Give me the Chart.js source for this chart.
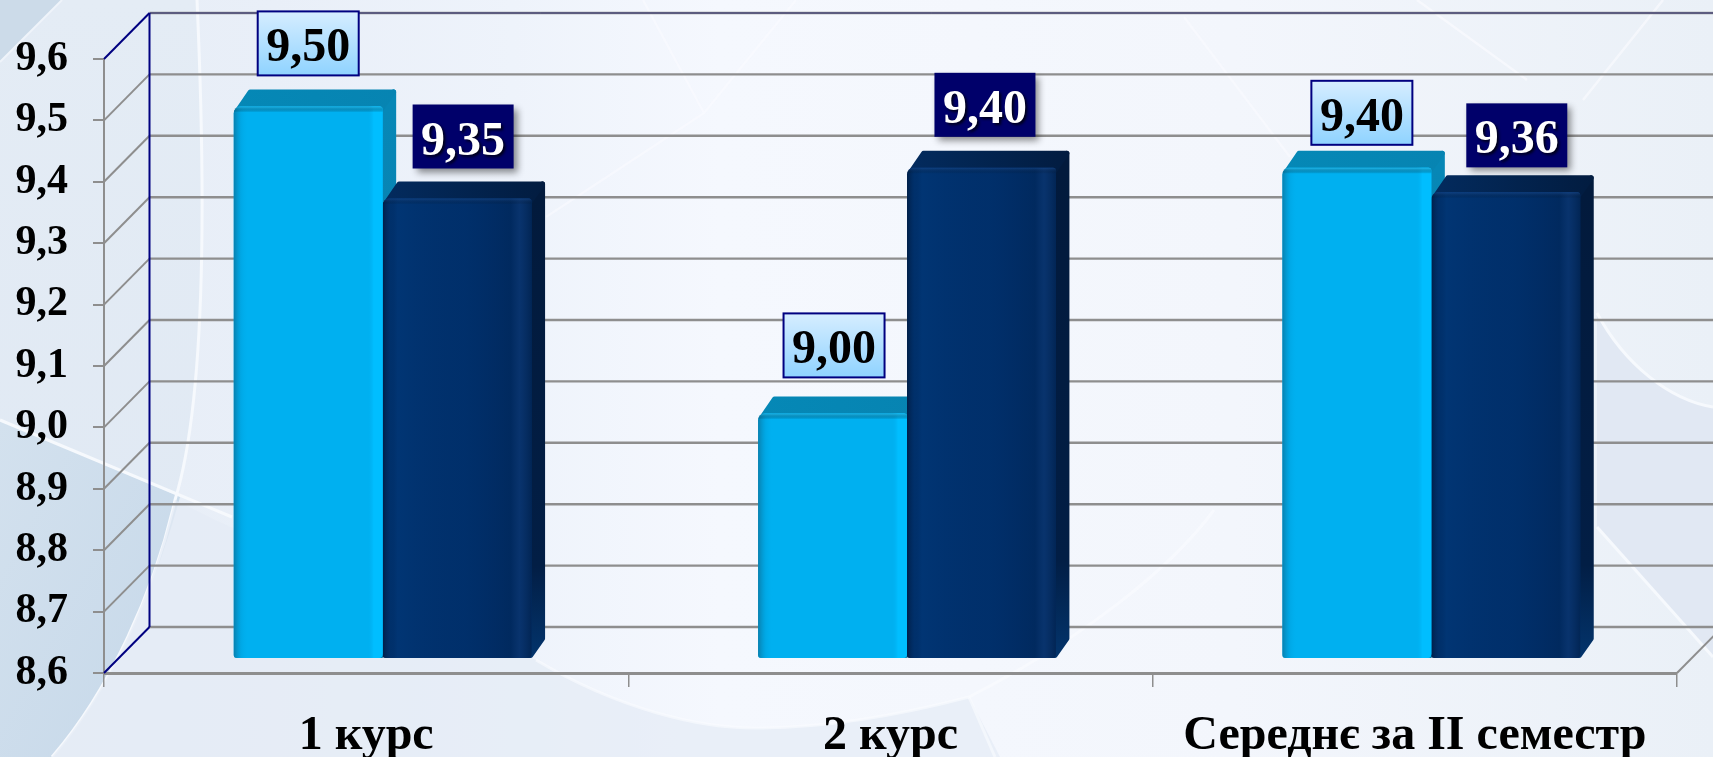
<!DOCTYPE html>
<html lang="uk">
<head>
<meta charset="utf-8">
<title>Середній бал</title>
<script src="https://cdn.jsdelivr.net/npm/chart.js@4"></script>
<style>
html,body{margin:0;padding:0;width:1713px;height:757px;overflow:hidden;background:#eef2fa}
#bg{position:absolute;left:0;top:0}
#chart{position:absolute;left:0;top:0}
</style>
</head>
<body>
<svg id="bg" width="1713" height="757" viewBox="0 0 1713 757" xmlns="http://www.w3.org/2000/svg">
<defs>
<linearGradient id="base" x1="0" y1="0" x2="1" y2="0">
<stop offset="0" stop-color="#e6edf6"/><stop offset=".16" stop-color="#e9eff8"/><stop offset=".3" stop-color="#eef3fb"/><stop offset=".42" stop-color="#f5f8fe"/><stop offset=".72" stop-color="#f3f6fc"/><stop offset="1" stop-color="#eaf0f7"/>
</linearGradient>
<linearGradient id="leftf" x1="0" y1="0" x2="0" y2="1">
<stop offset="0" stop-color="#e4ecf5"/><stop offset="1" stop-color="#dfe8f3"/>
</linearGradient>
<linearGradient id="dark" x1="0" y1="0" x2="1" y2="1">
<stop offset="0" stop-color="#d3e1ee"/><stop offset="1" stop-color="#c6d8e9"/>
</linearGradient>
</defs>
<rect width="1713" height="757" fill="url(#base)"/>
<path d="M197,0 C206,200 206,400 175,500 C155,590 110,690 52,757 L0,757 L0,0Z" fill="url(#leftf)"/>
<path d="M0,420 L180,497 C155,590 110,690 52,757 L0,757Z" fill="url(#dark)"/>
<path d="M0,0 L62,0 L0,62Z" fill="#ccdbe9"/>
<path d="M197,0 C206,200 206,400 175,500 C155,590 110,690 52,757" fill="none" stroke="#f6f9fd" stroke-width="3"/>
<path d="M0,420 L232,517" fill="none" stroke="#f6f9fd" stroke-width="3"/>
<path d="M62,0 L0,62" fill="none" stroke="#eff4fa" stroke-width="2"/>
<path d="M215,520 L536,660 C620,710 700,728 755,728 C830,728 900,715 969,697 L1000,757 L52,757 C110,690 150,600 175,500Z" fill="#e4ebf5" opacity=".7"/>
<path d="M536,660 C620,710 700,728 755,728 C830,728 900,715 969,697 C1080,640 1170,570 1214,510" fill="none" stroke="#fafcff" stroke-width="3" opacity=".6"/>
<path d="M969,697 L995,757" fill="none" stroke="#fafcff" stroke-width="3" opacity=".6"/>
<path d="M1597,313 C1625,365 1670,400 1713,407 L1713,657 L1597,527Z" fill="#e1e8f3"/>
<path d="M1597,313 C1625,365 1670,400 1713,407" fill="none" stroke="#f6f9fd" stroke-width="3"/>
<path d="M1597,527 L1713,657" fill="none" stroke="#f6f9fd" stroke-width="3"/>
<path d="M643,0 L704,113 M796,0 L704,113 L546,217" fill="none" stroke="#fbfcff" stroke-width="2.5" opacity=".5"/>
<path d="M1184,17 L1290,157" fill="none" stroke="#fbfcff" stroke-width="2.5" opacity=".5"/>
<path d="M1417,0 L1527,80 M1663,0 L1583,100" fill="none" stroke="#fbfcff" stroke-width="2.5" opacity=".6"/>
</svg>
<canvas id="chart" width="1713" height="757"></canvas>
<script>
const categories = ['1 курс', '2 курс', 'Середнє за II семестр'];
const series1Values = [9.50, 9.00, 9.40];
const series2Values = [9.35, 9.40, 9.36];
const yMin = 8.6;
const yMax = 9.6;
const yStep = 0.1;

// Hand-placed offsets of the value callouts in the source slide: [dx from bar centre, gap above bar top]
const labelNudge = [
  [[0, 31], [1.5, 36], [5, 23]],
  [[6, 30], [3.5, 31], [11, 25]]
];

const SERIF = '"Liberation Serif","Times New Roman",serif';
const GREY = '#8e8e8e';
const NAVY = '#000080';
const WALL_DX = 45.5, WALL_DY = 46;   // depth of the chart box
const BAR_DX = 13.5, BAR_DY = 17;     // depth of each bar
const SHIFT_X = 16.5, SHIFT_Y = -14;  // bars stand inside the floor
const RADIUS = {topLeft: 7, topRight: 3, bottomLeft: 3, bottomRight: 4};

function drawFaces(ctx, meta, dark) {
  ctx.save();
  ctx.translate(SHIFT_X, SHIFT_Y);
  ctx.lineJoin = 'round';
  ctx.lineWidth = 5;
  const r = ctx.lineWidth / 2;
  meta.data.forEach(el => {
    const L = el.x - el.width / 2, R = el.x + el.width / 2, T = el.y, B = el.base;
    const sg = ctx.createLinearGradient(0, T, 0, B);
    if (dark) { sg.addColorStop(0, '#021a3c'); sg.addColorStop(.8, '#021e45'); sg.addColorStop(1, '#03346c'); }
    else { sg.addColorStop(0, '#0787b6'); sg.addColorStop(1, '#0a7bab'); }
    ctx.fillStyle = sg; ctx.strokeStyle = sg;
    ctx.beginPath();
    ctx.moveTo(R - 6, T + 6);
    ctx.lineTo(R + BAR_DX - r, T - BAR_DY + r);
    ctx.lineTo(R + BAR_DX - r, B - BAR_DY - r);
    ctx.lineTo(R - 1, B - r);
    ctx.lineTo(R - 6, B - r);
    ctx.closePath();
    ctx.fill(); ctx.stroke();
    const tg = ctx.createLinearGradient(L, 0, R + BAR_DX, 0);
    if (dark) { tg.addColorStop(0, '#032b5e'); tg.addColorStop(1, '#021c40'); }
    else { tg.addColorStop(0, '#0588b6'); tg.addColorStop(1, '#0784b2'); }
    ctx.fillStyle = tg; ctx.strokeStyle = tg;
    ctx.beginPath();
    ctx.moveTo(L + r + 1, T + r + 2);
    ctx.lineTo(L + BAR_DX + 3, T - BAR_DY + r);
    ctx.lineTo(R + BAR_DX - r, T - BAR_DY + r);
    ctx.lineTo(R - r, T + r + 2);
    ctx.closePath();
    ctx.fill(); ctx.stroke();
  });
  ctx.restore();
}

const box3d = {
  id: 'box3d',
  beforeDatasetsDraw(chart) {
    const {ctx, chartArea: a, scales: {y}} = chart;
    ctx.save();
    ctx.lineCap = 'butt';
    y.ticks.forEach(t => {
      const py = y.getPixelForValue(t.value);
      const isEdge = t === y.ticks[0] || t === y.ticks[y.ticks.length - 1];
      ctx.lineWidth = 2.4;
      ctx.strokeStyle = GREY;
      ctx.beginPath();
      ctx.moveTo(a.left + WALL_DX, py - WALL_DY);
      ctx.lineTo(chart.width, py - WALL_DY);
      ctx.stroke();
      if (t.value >= yMax - 1e-6) {
        ctx.lineWidth = 1;
        ctx.strokeStyle = '#2a2a70';
        ctx.beginPath();
        ctx.moveTo(a.left + WALL_DX, py - WALL_DY);
        ctx.lineTo(chart.width, py - WALL_DY);
        ctx.stroke();
      }
      ctx.lineWidth = 2;
      ctx.strokeStyle = isEdge ? NAVY : GREY;
      ctx.beginPath();
      ctx.moveTo(a.left, py);
      ctx.lineTo(a.left + WALL_DX, py - WALL_DY);
      ctx.stroke();
    });
    ctx.lineWidth = 2;
    ctx.strokeStyle = NAVY;
    ctx.beginPath();
    ctx.moveTo(a.left + WALL_DX, a.top - WALL_DY);
    ctx.lineTo(a.left + WALL_DX, a.bottom - WALL_DY);
    ctx.stroke();
    ctx.strokeStyle = GREY;
    ctx.beginPath();
    ctx.moveTo(a.right, a.bottom);
    ctx.lineTo(a.right + WALL_DX, a.bottom - WALL_DY);
    ctx.stroke();
    ctx.restore();
    // side and top faces: light first, so the dark bar's top lies over the light bar's side
    drawFaces(ctx, chart.getDatasetMeta(0), false);
    drawFaces(ctx, chart.getDatasetMeta(1), true);
  },
  beforeDatasetDraw(chart) {
    chart.ctx.save();
    chart.ctx.translate(SHIFT_X, SHIFT_Y);
  },
  afterDatasetDraw(chart, args) {
    const {ctx} = chart;
    const dark = args.index === 1;
    args.meta.data.forEach(el => {
      const L = el.x - el.width / 2, R = el.x + el.width / 2, T = el.y, B = el.base;
      const W = R - L;
      const corners = [RADIUS.topLeft, RADIUS.topRight, RADIUS.bottomRight, RADIUS.bottomLeft];
      const g = ctx.createLinearGradient(L, 0, R, 0);
      if (dark) {
        g.addColorStop(0, 'rgba(1,30,70,.95)');
        g.addColorStop(.05, 'rgba(1,40,90,.2)');
        g.addColorStop(.1, 'rgba(2,56,120,.5)');
        g.addColorStop(.55, 'rgba(2,40,95,.25)');
        g.addColorStop(.86, 'rgba(1,38,88,.7)');
        g.addColorStop(.92, 'rgba(14,52,108,.6)');
        g.addColorStop(1, 'rgba(2,34,78,.8)');
      } else {
        g.addColorStop(0, 'rgba(10,125,170,.95)');
        g.addColorStop(.05, 'rgba(0,160,220,.5)');
        g.addColorStop(.1, 'rgba(0,176,240,0)');
        g.addColorStop(.9, 'rgba(0,176,240,0)');
        g.addColorStop(.94, 'rgba(0,190,255,1)');
        g.addColorStop(1, 'rgba(0,190,255,1)');
      }
      ctx.fillStyle = g;
      ctx.beginPath();
      ctx.roundRect(L, T, W, B - T, corners);
      ctx.fill();
      const h = ctx.createLinearGradient(0, T, 0, T + 6);
      h.addColorStop(0, dark ? 'rgba(30,80,150,.5)' : 'rgba(40,190,240,.8)');
      h.addColorStop(1, 'rgba(0,0,0,0)');
      ctx.fillStyle = h;
      ctx.beginPath();
      ctx.roundRect(L, T, W, 6, [RADIUS.topLeft, RADIUS.topRight, 0, 0]);
      ctx.fill();
    });
    ctx.restore();
  },
  afterDatasetsDraw(chart) {
    const {ctx} = chart;
    [0, 1].forEach(ds => {
      const meta = chart.getDatasetMeta(ds);
      meta.data.forEach((el, i) => {
        const [dx, gap] = labelNudge[ds][i];
        const cx = el.x + SHIFT_X + dx;
        const bottom = el.y + SHIFT_Y - gap;
        const w = 101, h = 64;
        const x = cx - w / 2, y = bottom - h;
        const val = chart.data.datasets[ds].data[i].toFixed(2).replace('.', ',');
        ctx.save();
        if (ds === 0) {
          const g = ctx.createLinearGradient(0, y, 0, y + h);
          g.addColorStop(0, '#d6edff');
          g.addColorStop(1, '#8fd3ff');
          ctx.fillStyle = g;
          ctx.fillRect(x, y, w, h);
          ctx.strokeStyle = NAVY;
          ctx.lineWidth = 2;
          ctx.strokeRect(x, y, w, h);
        } else {
          ctx.shadowColor = 'rgba(0,0,0,.45)';
          ctx.shadowBlur = 7;
          ctx.shadowOffsetX = 4;
          ctx.shadowOffsetY = 4;
          ctx.fillStyle = '#00006a';
          ctx.fillRect(x, y, w, h);
        }
        ctx.restore();
        ctx.save();
        ctx.font = 'bold 48px ' + SERIF;
        ctx.textAlign = 'center';
        ctx.textBaseline = 'alphabetic';
        if (ds === 1) {
          ctx.shadowColor = 'rgba(0,0,0,.8)';
          ctx.shadowBlur = 3;
          ctx.shadowOffsetX = 2;
          ctx.shadowOffsetY = 2;
          ctx.fillStyle = '#ffffff';
        } else {
          ctx.fillStyle = '#000000';
        }
        ctx.fillText(val, cx, y + 50);
        ctx.restore();
      });
    });
  }
};

new Chart(document.getElementById('chart'), {
  type: 'bar',
  plugins: [box3d],
  data: {
    labels: categories,
    datasets: [
      {label: 'Ряд 1', data: series1Values, backgroundColor: '#00b0f0', base: yMin, borderRadius: RADIUS, borderSkipped: false},
      {label: 'Ряд 2', data: series2Values, backgroundColor: '#00326f', base: yMin, borderRadius: RADIUS, borderSkipped: false}
    ]
  },
  options: {
    responsive: false,
    animation: false,
    layout: {padding: {top: 59, right: 36, left: 0, bottom: 0}},
    plugins: {legend: {display: false}, tooltip: {enabled: false}, title: {display: false}},
    datasets: {bar: {barPercentage: 1, categoryPercentage: 0.568}},
    scales: {
      x: {
        afterFit(s) { s.height = 84; },
        grid: {drawOnChartArea: false, drawTicks: true, tickLength: 14, color: GREY, lineWidth: 1.5},
        border: {display: true, color: GREY, width: 3},
        ticks: {color: '#000', font: {family: SERIF, weight: 'bold', size: 48}, padding: 21, maxRotation: 0, autoSkip: false}
      },
      y: {
        min: yMin, max: yMax,
        afterFit(s) { s.width = 104; },
        grid: {drawOnChartArea: false, drawTicks: true, tickLength: 11, color: GREY, lineWidth: 2},
        border: {display: true, color: GREY, width: 2},
        ticks: {
          stepSize: yStep, color: '#000', padding: 25,
          font: {family: SERIF, weight: 'bold', size: 42},
          callback: v => v.toFixed(1).replace('.', ',')
        }
      }
    }
  }
});
</script>
</body>
</html>
